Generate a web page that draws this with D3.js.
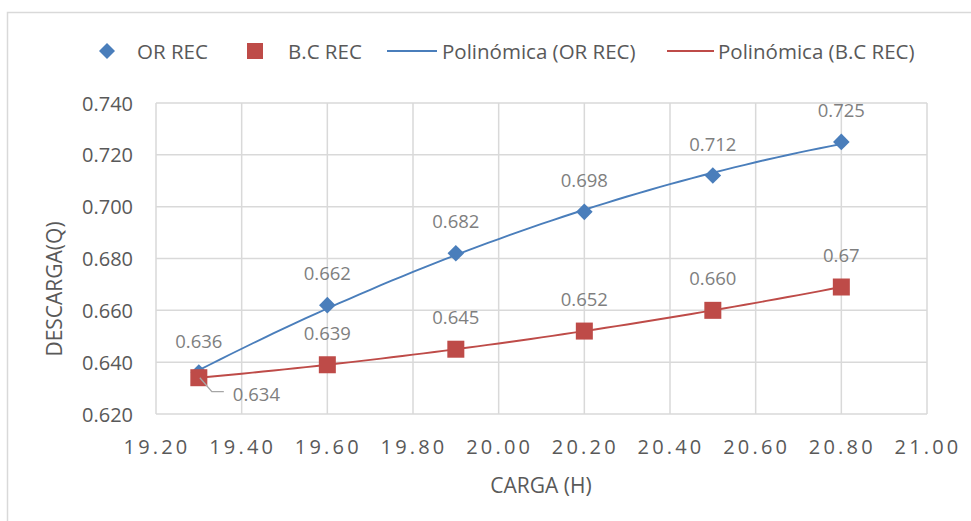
<!DOCTYPE html>
<html>
<head>
<meta charset="utf-8">
<script src="https://cdn.jsdelivr.net/npm/d3@7"></script>
<style>
  html, body { margin: 0; padding: 0; background: #fff; }
  svg { display: block; font-family: "Open Sans", "Noto Sans", sans-serif; }
</style>
</head>
<body>
<svg id="chart" width="971" height="521"></svg>
<script>
// Head (CARGA H) readings and discharge values for the two series
const carga = [19.3, 19.6, 19.9, 20.2, 20.5, 20.8];
const orRec = [0.636, 0.662, 0.682, 0.698, 0.712, 0.725];
const bcRec = [0.634, 0.639, 0.645, 0.652, 0.660, 0.669];
const orLabels = ["0.636", "0.662", "0.682", "0.698", "0.712", "0.725"];
const bcLabels = ["0.634", "0.639", "0.645", "0.652", "0.660", "0.67"];
const xTicks = [19.2, 19.4, 19.6, 19.8, 20.0, 20.2, 20.4, 20.6, 20.8, 21.0];
const yTicks = [0.62, 0.64, 0.66, 0.68, 0.70, 0.72, 0.74];
const legendNames = ["OR REC", "B.C REC", "Polinómica (OR REC)", "Polinómica (B.C REC)"];

const BLUE = "#4a7ebb", RED = "#be4b48", GRID = "#d9d9d9";
const TICK_TXT = "#595959", LABEL_TXT = "#7f7f7f";

const svg = d3.select("#chart");
const plot = { left: 156, right: 927, top: 103, bottom: 414 };

const x = d3.scaleLinear().domain([19.2, 21.0]).range([plot.left, plot.right]);
const y = d3.scaleLinear().domain([0.62, 0.74]).range([plot.bottom, plot.top]);

// outer chart frame
svg.append("path")
  .attr("d", `M7.5,${521 + 2} V12.5 H${971 + 2}`)
  .attr("fill", "none").attr("stroke", GRID).attr("stroke-width", 1.5);

// gridlines (also form the plot-area outline)
const grid = svg.append("g");
grid.selectAll("line.v").data(xTicks).join("line")
  .attr("x1", d => x(d)).attr("x2", d => x(d))
  .attr("y1", plot.top).attr("y2", plot.bottom)
  .attr("stroke", GRID).attr("stroke-width", 1.5);
grid.selectAll("line.h").data(yTicks).join("line")
  .attr("x1", plot.left).attr("x2", plot.right)
  .attr("y1", d => y(d)).attr("y2", d => y(d))
  .attr("stroke", GRID).attr("stroke-width", 1.5);

// tick labels
svg.append("g").selectAll("text").data(yTicks).join("text")
  .attr("x", 133).attr("y", d => y(d) + 7.5)
  .attr("text-anchor", "end").attr("font-size", 20).attr("fill", TICK_TXT)
  .text(d3.format(".3f"));
svg.append("g").selectAll("text").data(xTicks).join("text")
  .attr("x", d => x(d) + 1).attr("y", 454)
  .attr("text-anchor", "middle").attr("font-size", 20).attr("fill", TICK_TXT)
  .attr("letter-spacing", 3.2)
  .text(d3.format(".2f"));

// axis titles
svg.append("text")
  .attr("transform", "translate(62,289) rotate(-90)")
  .attr("text-anchor", "middle").attr("font-size", 21).attr("fill", TICK_TXT)
  .text("DESCARGA(Q)");
svg.append("text")
  .attr("x", 541).attr("y", 493)
  .attr("text-anchor", "middle").attr("font-size", 21).attr("fill", TICK_TXT)
  .text("CARGA (H)");

// second-order least-squares fit, as used for the polynomial trendlines
function quadFit(xs, ys) {
  const mx = d3.mean(xs);
  const u = xs.map(v => v - mx);
  const s = k => d3.sum(u, v => Math.pow(v, k));
  const t = k => d3.sum(u, (v, i) => Math.pow(v, k) * ys[i]);
  const A = [[s(4), s(3), s(2)], [s(3), s(2), s(1)], [s(2), s(1), u.length]];
  const b = [t(2), t(1), t(0)];
  // Gaussian elimination
  for (let i = 0; i < 3; i++) {
    for (let j = i + 1; j < 3; j++) {
      const f = A[j][i] / A[i][i];
      for (let k = i; k < 3; k++) A[j][k] -= f * A[i][k];
      b[j] -= f * b[i];
    }
  }
  const c = [0, 0, 0];
  for (let i = 2; i >= 0; i--) {
    let acc = b[i];
    for (let k = i + 1; k < 3; k++) acc -= A[i][k] * c[k];
    c[i] = acc / A[i][i];
  }
  return v => { const w = v - mx; return c[0] * w * w + c[1] * w + c[2]; };
}

function drawTrend(values, color) {
  const f = quadFit(carga, values);
  const [x0, x1] = d3.extent(carga);
  const pts = d3.range(0, 61).map(i => x0 + (x1 - x0) * i / 60);
  svg.append("path")
    .datum(pts)
    .attr("fill", "none").attr("stroke", color).attr("stroke-width", 1.9)
    .attr("d", d3.line().x(d => x(d)).y(d => y(f(d))));
}
drawTrend(bcRec, RED);
drawTrend(orRec, BLUE);

// markers
const diamond = s => `M0,${-s} L${s},0 L0,${s} L${-s},0 Z`;
svg.append("g").selectAll("path").data(orRec).join("path")
  .attr("transform", (d, i) => `translate(${x(carga[i])},${y(d)})`)
  .attr("d", diamond(8.3)).attr("fill", BLUE);
svg.append("g").selectAll("rect").data(bcRec).join("rect")
  .attr("x", (d, i) => x(carga[i]) - 8.5).attr("y", d => y(d) - 8.5)
  .attr("width", 17).attr("height", 17).attr("fill", RED);

// data labels
svg.append("g").selectAll("text").data(orRec).join("text")
  .attr("x", (d, i) => x(carga[i])).attr("y", d => y(d) - 25)
  .attr("text-anchor", "middle").attr("font-size", 18.5).attr("fill", LABEL_TXT)
  .text((d, i) => orLabels[i]);
svg.append("g").selectAll("text").data(bcRec.slice(1)).join("text")
  .attr("x", (d, i) => x(carga[i + 1])).attr("y", d => y(d) - 25)
  .attr("text-anchor", "middle").attr("font-size", 18.5).attr("fill", LABEL_TXT)
  .text((d, i) => bcLabels[i + 1]);

// first B.C point label sits below-right with a leader line
const px = x(carga[0]), py = y(bcRec[0]);
svg.append("path")
  .attr("d", `M${px + 1},${py} L${px + 13},${py + 14} H${px + 25}`)
  .attr("fill", "none").attr("stroke", "#a6a6a6").attr("stroke-width", 1.3);
svg.append("text")
  .attr("x", px + 34).attr("y", py + 23)
  .attr("font-size", 18.5).attr("fill", LABEL_TXT)
  .text(bcLabels[0]);

// legend
const ly = 51;
const lg = svg.append("g").attr("font-size", 20.5).attr("fill", TICK_TXT);
lg.append("path").attr("transform", `translate(107,${ly})`).attr("d", diamond(8)).attr("fill", BLUE);
lg.append("text").attr("x", 137).attr("y", ly + 7.5).text(legendNames[0]);
lg.append("rect").attr("x", 247).attr("y", ly - 8).attr("width", 16).attr("height", 16).attr("fill", RED);
lg.append("text").attr("x", 288).attr("y", ly + 7.5).text(legendNames[1]);
lg.append("line").attr("x1", 387).attr("x2", 437).attr("y1", ly).attr("y2", ly)
  .attr("stroke", BLUE).attr("stroke-width", 2);
lg.append("text").attr("x", 442).attr("y", ly + 7.5).text(legendNames[2]);
lg.append("line").attr("x1", 667).attr("x2", 714).attr("y1", ly).attr("y2", ly)
  .attr("stroke", RED).attr("stroke-width", 2);
lg.append("text").attr("x", 718).attr("y", ly + 7.5).text(legendNames[3]);
</script>
</body>
</html>
